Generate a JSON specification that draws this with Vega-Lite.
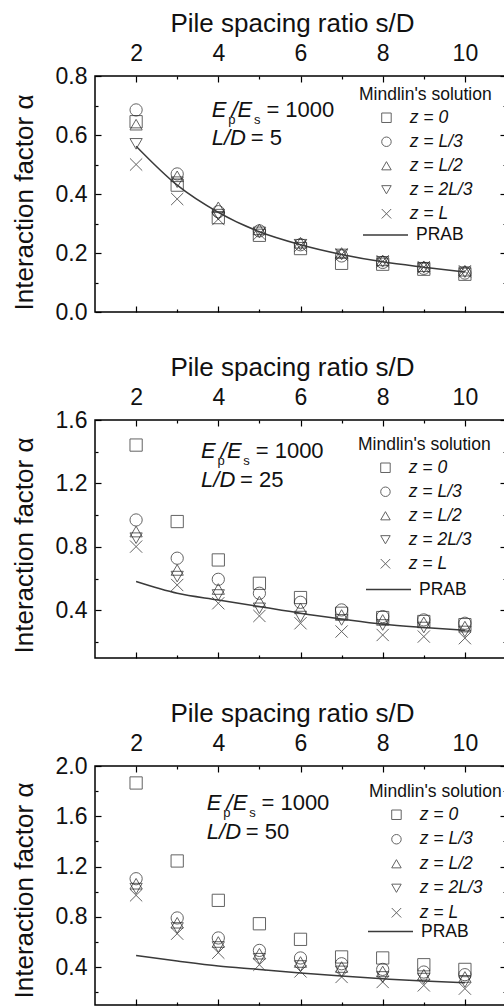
{
  "$schema": "https://vega.github.io/schema/vega-lite/v6.json",
  "padding": {"left": 10, "top": 9, "right": 0, "bottom": 0},
  "background": "white",
  "spacing": 108,
  "bounds": "flush",
  "config": {
    "font": "Liberation Sans",
    "view": {"stroke": "#000", "strokeWidth": 1.5},
    "axis": {"domain": false, "grid": false, "tickColor": "#000", "tickWidth": 1.2, "labelFontSize": 23, "titleFontSize": 26, "labelColor": "#111", "titleColor": "#111", "titleFontWeight": "normal", "labelFlush": false, "labelOverlap": false},
    "legend": {"padding": 0, "labelFont": "Liberation Sans", "titleFont": "Liberation Sans"}
  },
  "datasets": {
    "mindlin": [
      {"panel": 1, "s": 2, "case": "z = 0", "alpha": 0.645}, {"panel": 1, "s": 2, "case": "z = L/3", "alpha": 0.685}, {"panel": 1, "s": 2, "case": "z = L/2", "alpha": 0.635}, {"panel": 1, "s": 2, "case": "z = 2L/3", "alpha": 0.57}, {"panel": 1, "s": 2, "case": "z = L", "alpha": 0.5},
      {"panel": 1, "s": 3, "case": "z = 0", "alpha": 0.43}, {"panel": 1, "s": 3, "case": "z = L/3", "alpha": 0.468}, {"panel": 1, "s": 3, "case": "z = L/2", "alpha": 0.46}, {"panel": 1, "s": 3, "case": "z = 2L/3", "alpha": 0.44}, {"panel": 1, "s": 3, "case": "z = L", "alpha": 0.383},
      {"panel": 1, "s": 4, "case": "z = 0", "alpha": 0.32}, {"panel": 1, "s": 4, "case": "z = L/3", "alpha": 0.34}, {"panel": 1, "s": 4, "case": "z = L/2", "alpha": 0.355}, {"panel": 1, "s": 4, "case": "z = 2L/3", "alpha": 0.33}, {"panel": 1, "s": 4, "case": "z = L", "alpha": 0.315},
      {"panel": 1, "s": 5, "case": "z = 0", "alpha": 0.26}, {"panel": 1, "s": 5, "case": "z = L/3", "alpha": 0.275}, {"panel": 1, "s": 5, "case": "z = L/2", "alpha": 0.28}, {"panel": 1, "s": 5, "case": "z = 2L/3", "alpha": 0.27}, {"panel": 1, "s": 5, "case": "z = L", "alpha": 0.265},
      {"panel": 1, "s": 6, "case": "z = 0", "alpha": 0.215}, {"panel": 1, "s": 6, "case": "z = L/3", "alpha": 0.228}, {"panel": 1, "s": 6, "case": "z = L/2", "alpha": 0.235}, {"panel": 1, "s": 6, "case": "z = 2L/3", "alpha": 0.228}, {"panel": 1, "s": 6, "case": "z = L", "alpha": 0.225},
      {"panel": 1, "s": 7, "case": "z = 0", "alpha": 0.165}, {"panel": 1, "s": 7, "case": "z = L/3", "alpha": 0.19}, {"panel": 1, "s": 7, "case": "z = L/2", "alpha": 0.2}, {"panel": 1, "s": 7, "case": "z = 2L/3", "alpha": 0.195}, {"panel": 1, "s": 7, "case": "z = L", "alpha": 0.195},
      {"panel": 1, "s": 8, "case": "z = 0", "alpha": 0.162}, {"panel": 1, "s": 8, "case": "z = L/3", "alpha": 0.168}, {"panel": 1, "s": 8, "case": "z = L/2", "alpha": 0.175}, {"panel": 1, "s": 8, "case": "z = 2L/3", "alpha": 0.17}, {"panel": 1, "s": 8, "case": "z = L", "alpha": 0.172},
      {"panel": 1, "s": 9, "case": "z = 0", "alpha": 0.145}, {"panel": 1, "s": 9, "case": "z = L/3", "alpha": 0.148}, {"panel": 1, "s": 9, "case": "z = L/2", "alpha": 0.155}, {"panel": 1, "s": 9, "case": "z = 2L/3", "alpha": 0.15}, {"panel": 1, "s": 9, "case": "z = L", "alpha": 0.152},
      {"panel": 1, "s": 10, "case": "z = 0", "alpha": 0.128}, {"panel": 1, "s": 10, "case": "z = L/3", "alpha": 0.132}, {"panel": 1, "s": 10, "case": "z = L/2", "alpha": 0.14}, {"panel": 1, "s": 10, "case": "z = 2L/3", "alpha": 0.135}, {"panel": 1, "s": 10, "case": "z = L", "alpha": 0.138},
      {"panel": 2, "s": 2, "case": "z = 0", "alpha": 1.442}, {"panel": 2, "s": 2, "case": "z = L/3", "alpha": 0.97}, {"panel": 2, "s": 2, "case": "z = L/2", "alpha": 0.897}, {"panel": 2, "s": 2, "case": "z = 2L/3", "alpha": 0.855}, {"panel": 2, "s": 2, "case": "z = L", "alpha": 0.802},
      {"panel": 2, "s": 3, "case": "z = 0", "alpha": 0.96}, {"panel": 2, "s": 3, "case": "z = L/3", "alpha": 0.729}, {"panel": 2, "s": 3, "case": "z = L/2", "alpha": 0.655}, {"panel": 2, "s": 3, "case": "z = 2L/3", "alpha": 0.613}, {"panel": 2, "s": 3, "case": "z = L", "alpha": 0.56},
      {"panel": 2, "s": 4, "case": "z = 0", "alpha": 0.718}, {"panel": 2, "s": 4, "case": "z = L/3", "alpha": 0.596}, {"panel": 2, "s": 4, "case": "z = L/2", "alpha": 0.535}, {"panel": 2, "s": 4, "case": "z = 2L/3", "alpha": 0.497}, {"panel": 2, "s": 4, "case": "z = L", "alpha": 0.445},
      {"panel": 2, "s": 5, "case": "z = 0", "alpha": 0.571}, {"panel": 2, "s": 5, "case": "z = L/3", "alpha": 0.508}, {"panel": 2, "s": 5, "case": "z = L/2", "alpha": 0.456}, {"panel": 2, "s": 5, "case": "z = 2L/3", "alpha": 0.413}, {"panel": 2, "s": 5, "case": "z = L", "alpha": 0.365},
      {"panel": 2, "s": 6, "case": "z = 0", "alpha": 0.481}, {"panel": 2, "s": 6, "case": "z = L/3", "alpha": 0.451}, {"panel": 2, "s": 6, "case": "z = L/2", "alpha": 0.413}, {"panel": 2, "s": 6, "case": "z = 2L/3", "alpha": 0.361}, {"panel": 2, "s": 6, "case": "z = L", "alpha": 0.319},
      {"panel": 2, "s": 7, "case": "z = 0", "alpha": 0.382}, {"panel": 2, "s": 7, "case": "z = L/3", "alpha": 0.403}, {"panel": 2, "s": 7, "case": "z = L/2", "alpha": 0.371}, {"panel": 2, "s": 7, "case": "z = 2L/3", "alpha": 0.34}, {"panel": 2, "s": 7, "case": "z = L", "alpha": 0.267},
      {"panel": 2, "s": 8, "case": "z = 0", "alpha": 0.355}, {"panel": 2, "s": 8, "case": "z = L/3", "alpha": 0.361}, {"panel": 2, "s": 8, "case": "z = L/2", "alpha": 0.34}, {"panel": 2, "s": 8, "case": "z = 2L/3", "alpha": 0.308}, {"panel": 2, "s": 8, "case": "z = L", "alpha": 0.245},
      {"panel": 2, "s": 9, "case": "z = 0", "alpha": 0.33}, {"panel": 2, "s": 9, "case": "z = L/3", "alpha": 0.34}, {"panel": 2, "s": 9, "case": "z = L/2", "alpha": 0.325}, {"panel": 2, "s": 9, "case": "z = 2L/3", "alpha": 0.292}, {"panel": 2, "s": 9, "case": "z = L", "alpha": 0.235},
      {"panel": 2, "s": 10, "case": "z = 0", "alpha": 0.31}, {"panel": 2, "s": 10, "case": "z = L/3", "alpha": 0.319}, {"panel": 2, "s": 10, "case": "z = L/2", "alpha": 0.298}, {"panel": 2, "s": 10, "case": "z = 2L/3", "alpha": 0.267}, {"panel": 2, "s": 10, "case": "z = L", "alpha": 0.225},
      {"panel": 3, "s": 2, "case": "z = 0", "alpha": 1.865}, {"panel": 3, "s": 2, "case": "z = L/3", "alpha": 1.104}, {"panel": 3, "s": 2, "case": "z = L/2", "alpha": 1.064}, {"panel": 3, "s": 2, "case": "z = 2L/3", "alpha": 1.025}, {"panel": 3, "s": 2, "case": "z = L", "alpha": 0.972},
      {"panel": 3, "s": 3, "case": "z = 0", "alpha": 1.245}, {"panel": 3, "s": 3, "case": "z = L/3", "alpha": 0.792}, {"panel": 3, "s": 3, "case": "z = L/2", "alpha": 0.754}, {"panel": 3, "s": 3, "case": "z = 2L/3", "alpha": 0.712}, {"panel": 3, "s": 3, "case": "z = L", "alpha": 0.667},
      {"panel": 3, "s": 4, "case": "z = 0", "alpha": 0.932}, {"panel": 3, "s": 4, "case": "z = L/3", "alpha": 0.633}, {"panel": 3, "s": 4, "case": "z = L/2", "alpha": 0.601}, {"panel": 3, "s": 4, "case": "z = 2L/3", "alpha": 0.561}, {"panel": 3, "s": 4, "case": "z = L", "alpha": 0.516},
      {"panel": 3, "s": 5, "case": "z = 0", "alpha": 0.746}, {"panel": 3, "s": 5, "case": "z = L/3", "alpha": 0.534}, {"panel": 3, "s": 5, "case": "z = L/2", "alpha": 0.508}, {"panel": 3, "s": 5, "case": "z = 2L/3", "alpha": 0.468}, {"panel": 3, "s": 5, "case": "z = L", "alpha": 0.42},
      {"panel": 3, "s": 6, "case": "z = 0", "alpha": 0.622}, {"panel": 3, "s": 6, "case": "z = L/3", "alpha": 0.474}, {"panel": 3, "s": 6, "case": "z = L/2", "alpha": 0.442}, {"panel": 3, "s": 6, "case": "z = 2L/3", "alpha": 0.41}, {"panel": 3, "s": 6, "case": "z = L", "alpha": 0.367},
      {"panel": 3, "s": 7, "case": "z = 0", "alpha": 0.482}, {"panel": 3, "s": 7, "case": "z = L/3", "alpha": 0.428}, {"panel": 3, "s": 7, "case": "z = L/2", "alpha": 0.402}, {"panel": 3, "s": 7, "case": "z = 2L/3", "alpha": 0.367}, {"panel": 3, "s": 7, "case": "z = L", "alpha": 0.323},
      {"panel": 3, "s": 8, "case": "z = 0", "alpha": 0.474}, {"panel": 3, "s": 8, "case": "z = L/3", "alpha": 0.383}, {"panel": 3, "s": 8, "case": "z = L/2", "alpha": 0.367}, {"panel": 3, "s": 8, "case": "z = 2L/3", "alpha": 0.323}, {"panel": 3, "s": 8, "case": "z = L", "alpha": 0.283},
      {"panel": 3, "s": 9, "case": "z = 0", "alpha": 0.42}, {"panel": 3, "s": 9, "case": "z = L/3", "alpha": 0.362}, {"panel": 3, "s": 9, "case": "z = L/2", "alpha": 0.341}, {"panel": 3, "s": 9, "case": "z = 2L/3", "alpha": 0.31}, {"panel": 3, "s": 9, "case": "z = L", "alpha": 0.256},
      {"panel": 3, "s": 10, "case": "z = 0", "alpha": 0.383}, {"panel": 3, "s": 10, "case": "z = L/3", "alpha": 0.341}, {"panel": 3, "s": 10, "case": "z = L/2", "alpha": 0.323}, {"panel": 3, "s": 10, "case": "z = 2L/3", "alpha": 0.283}, {"panel": 3, "s": 10, "case": "z = L", "alpha": 0.23}
    ],
    "prab": [
      {"panel": 1, "s": 2, "alpha": 0.562}, {"panel": 1, "s": 3, "alpha": 0.43}, {"panel": 1, "s": 4, "alpha": 0.338}, {"panel": 1, "s": 5, "alpha": 0.272}, {"panel": 1, "s": 6, "alpha": 0.228}, {"panel": 1, "s": 7, "alpha": 0.195}, {"panel": 1, "s": 8, "alpha": 0.17}, {"panel": 1, "s": 9, "alpha": 0.152}, {"panel": 1, "s": 10, "alpha": 0.136},
      {"panel": 2, "s": 2, "alpha": 0.582}, {"panel": 2, "s": 3, "alpha": 0.508}, {"panel": 2, "s": 4, "alpha": 0.466}, {"panel": 2, "s": 5, "alpha": 0.424}, {"panel": 2, "s": 6, "alpha": 0.382}, {"panel": 2, "s": 7, "alpha": 0.346}, {"panel": 2, "s": 8, "alpha": 0.313}, {"panel": 2, "s": 9, "alpha": 0.292}, {"panel": 2, "s": 10, "alpha": 0.275},
      {"panel": 3, "s": 2, "alpha": 0.494}, {"panel": 3, "s": 3, "alpha": 0.45}, {"panel": 3, "s": 4, "alpha": 0.41}, {"panel": 3, "s": 5, "alpha": 0.383}, {"panel": 3, "s": 6, "alpha": 0.354}, {"panel": 3, "s": 7, "alpha": 0.33}, {"panel": 3, "s": 8, "alpha": 0.309}, {"panel": 3, "s": 9, "alpha": 0.29}, {"panel": 3, "s": 10, "alpha": 0.277}
    ],
    "annItalic": [
      {"panel": 1, "x": 3.84, "y": 0.662, "text": "E"}, {"panel": 1, "x": 4.32, "y": 0.662, "text": "/E"}, {"panel": 1, "x": 3.84, "y": 0.565, "text": "L/D"},
      {"panel": 2, "x": 3.58, "y": 1.363, "text": "E"}, {"panel": 2, "x": 4.06, "y": 1.363, "text": "/E"}, {"panel": 2, "x": 3.58, "y": 1.18, "text": "L/D"},
      {"panel": 3, "x": 3.72, "y": 1.647, "text": "E"}, {"panel": 3, "x": 4.2, "y": 1.647, "text": "/E"}, {"panel": 3, "x": 3.72, "y": 1.422, "text": "L/D"}
    ],
    "annRegular": [
      {"panel": 1, "x": 5.17, "y": 0.662, "text": "= 1000"}, {"panel": 1, "x": 4.79, "y": 0.565, "text": "= 5"},
      {"panel": 2, "x": 4.91, "y": 1.363, "text": "= 1000"}, {"panel": 2, "x": 4.53, "y": 1.18, "text": "= 25"},
      {"panel": 3, "x": 5.05, "y": 1.647, "text": "= 1000"}, {"panel": 3, "x": 4.67, "y": 1.422, "text": "= 50"}
    ],
    "annSub": [
      {"panel": 1, "x": 4.24, "y": 0.638, "text": "p"}, {"panel": 1, "x": 4.87, "y": 0.638, "text": "s"},
      {"panel": 2, "x": 3.98, "y": 1.319, "text": "p"}, {"panel": 2, "x": 4.61, "y": 1.319, "text": "s"},
      {"panel": 3, "x": 4.12, "y": 1.591, "text": "p"}, {"panel": 3, "x": 4.75, "y": 1.591, "text": "s"}
    ]
  },
  "resolve": {"scale": {"shape": "independent", "color": "independent", "y": "independent"}, "legend": {"shape": "independent", "color": "independent"}},
  "vconcat": [
    {
      "width": 411, "height": 236,
      "resolve": {"axis": {"x": "independent", "y": "independent"}},
      "layer": [
        {
          "data": {"name": "mindlin"},
          "transform": [{"filter": "datum.panel == 1"}],
          "mark": {"type": "point", "filled": false, "color": "#222", "strokeWidth": 1, "size": 150},
          "encoding": {
            "x": {"field": "s", "type": "quantitative", "scale": {"domain": [1, 11], "nice": false, "zero": false},
              "axis": {"orient": "top", "title": "Pile spacing ratio s/D", "titleX": 197, "values": [2, 3, 4, 5, 6, 7, 8, 9, 10], "labelExpr": "datum.value % 2 == 0 ? datum.label : ''", "tickSize": {"condition": {"test": "datum.value % 2 == 0", "value": -6}, "value": -3}, "labelPadding": 17, "titlePadding": 2.5}},
            "y": {"field": "alpha", "type": "quantitative", "scale": {"domain": [0, 0.8], "nice": false, "zero": false},
              "axis": {"orient": "left", "title": "Interaction factor α", "titleY": 126, "values": [0, 0.1, 0.2, 0.3, 0.4, 0.5, 0.6, 0.7, 0.8], "format": ".1f", "labelExpr": "round(datum.value * 10) % 2 == 0 ? datum.label : ''", "tickSize": {"condition": {"test": "round(datum.value * 10) % 2 == 0", "value": -6}, "value": -3}, "labelPadding": 14, "titlePadding": 18}},
            "shape": {"field": "case", "type": "nominal",
              "scale": {"domain": ["z = 0", "z = L/3", "z = L/2", "z = 2L/3", "z = L"], "range": ["square", "circle", "triangle-up", "triangle-down", "M-1,-1L1,1M-1,1L1,-1"]},
              "legend": {"orient": "none", "legendX": 264, "legendY": 10, "title": "Mindlin's solution", "titleFontSize": 17.5, "titleFontWeight": "normal", "titleColor": "#111", "titlePadding": 5.5, "labelFontSize": 17.5, "labelFontStyle": "italic", "labelColor": "#111", "symbolSize": 90, "symbolStrokeColor": "#222", "symbolStrokeWidth": 1, "symbolFillColor": "transparent", "symbolOffset": 18.7, "labelOffset": 14.5, "rowPadding": 5}}
          }
        },
        {
          "data": {"name": "prab"},
          "transform": [{"filter": "datum.panel == 1"}],
          "mark": {"type": "line", "strokeWidth": 1.5, "interpolate": "monotone"},
          "encoding": {
            "x": {"field": "s", "type": "quantitative", "axis": {"orient": "bottom", "title": null, "labels": false, "values": [2, 3, 4, 5, 6, 7, 8, 9, 10], "tickSize": {"condition": {"test": "datum.value % 2 == 0", "value": -6}, "value": -3}}},
            "y": {"field": "alpha", "type": "quantitative", "axis": {"orient": "right", "title": null, "labels": false, "values": [0, 0.1, 0.2, 0.3, 0.4, 0.5, 0.6, 0.7, 0.8], "tickSize": {"condition": {"test": "round(datum.value * 10) % 2 == 0", "value": -6}, "value": -3}}},
            "color": {"datum": "PRAB", "type": "nominal", "scale": {"range": ["#3a3a3a"]},
              "legend": {"orient": "none", "legendX": 267, "legendY": 135.5, "title": null, "symbolType": "stroke", "symbolSize": 2025, "symbolStrokeWidth": 1.5, "labelFontSize": 17.5, "labelColor": "#111", "labelOffset": 7}}
          }
        },
        {
          "data": {"name": "annItalic"},
          "transform": [{"filter": "datum.panel == 1"}],
          "mark": {"type": "text", "fontStyle": "italic", "fontSize": 22, "align": "left", "baseline": "alphabetic", "color": "#111"},
          "encoding": {"x": {"field": "x", "type": "quantitative", "axis": null}, "y": {"field": "y", "type": "quantitative", "axis": null}, "text": {"field": "text"}}
        },
        {
          "data": {"name": "annRegular"},
          "transform": [{"filter": "datum.panel == 1"}],
          "mark": {"type": "text", "fontSize": 22, "align": "left", "baseline": "alphabetic", "color": "#111"},
          "encoding": {"x": {"field": "x", "type": "quantitative", "axis": null}, "y": {"field": "y", "type": "quantitative", "axis": null}, "text": {"field": "text"}}
        },
        {
          "data": {"name": "annSub"},
          "transform": [{"filter": "datum.panel == 1"}],
          "mark": {"type": "text", "fontSize": 13, "align": "left", "baseline": "alphabetic", "color": "#111"},
          "encoding": {"x": {"field": "x", "type": "quantitative", "axis": null}, "y": {"field": "y", "type": "quantitative", "axis": null}, "text": {"field": "text"}}
        }
      ]
    },
    {
      "width": 411, "height": 238,
      "resolve": {"axis": {"x": "independent", "y": "independent"}},
      "layer": [
        {
          "data": {"name": "mindlin"},
          "transform": [{"filter": "datum.panel == 2"}],
          "mark": {"type": "point", "filled": false, "color": "#222", "strokeWidth": 1, "size": 150},
          "encoding": {
            "x": {"field": "s", "type": "quantitative", "scale": {"domain": [1, 11], "nice": false, "zero": false},
              "axis": {"orient": "top", "title": "Pile spacing ratio s/D", "titleX": 197, "values": [2, 3, 4, 5, 6, 7, 8, 9, 10], "labelExpr": "datum.value % 2 == 0 ? datum.label : ''", "tickSize": {"condition": {"test": "datum.value % 2 == 0", "value": -6}, "value": -3}, "labelPadding": 17, "titlePadding": 2.5}},
            "y": {"field": "alpha", "type": "quantitative", "scale": {"domain": [0.1, 1.6], "nice": false, "zero": false},
              "axis": {"orient": "left", "title": "Interaction factor α", "titleY": 125, "values": [0.2, 0.4, 0.6, 0.8, 1.0, 1.2, 1.4, 1.6], "format": ".1f", "labelExpr": "round(datum.value * 10) % 4 == 0 ? datum.label : ''", "tickSize": {"condition": {"test": "round(datum.value * 10) % 4 == 0", "value": -6}, "value": -3}, "labelPadding": 14, "titlePadding": 18}},
            "shape": {"field": "case", "type": "nominal",
              "scale": {"domain": ["z = 0", "z = L/3", "z = L/2", "z = 2L/3", "z = L"], "range": ["square", "circle", "triangle-up", "triangle-down", "M-1,-1L1,1M-1,1L1,-1"]},
              "legend": {"orient": "none", "legendX": 263, "legendY": 16, "title": "Mindlin's solution", "titleFontSize": 17.5, "titleFontWeight": "normal", "titleColor": "#111", "titlePadding": 5.5, "labelFontSize": 17.5, "labelFontStyle": "italic", "labelColor": "#111", "symbolSize": 90, "symbolStrokeColor": "#222", "symbolStrokeWidth": 1, "symbolFillColor": "transparent", "symbolOffset": 18.7, "labelOffset": 14.5, "rowPadding": 5}}
          }
        },
        {
          "data": {"name": "prab"},
          "transform": [{"filter": "datum.panel == 2"}],
          "mark": {"type": "line", "strokeWidth": 1.5, "interpolate": "monotone"},
          "encoding": {
            "x": {"field": "s", "type": "quantitative", "axis": {"orient": "bottom", "title": null, "labels": false, "values": [2, 3, 4, 5, 6, 7, 8, 9, 10], "tickSize": {"condition": {"test": "datum.value % 2 == 0", "value": -6}, "value": -3}}},
            "y": {"field": "alpha", "type": "quantitative", "axis": {"orient": "right", "title": null, "labels": false, "values": [0.2, 0.4, 0.6, 0.8, 1.0, 1.2, 1.4, 1.6], "tickSize": {"condition": {"test": "round(datum.value * 10) % 4 == 0", "value": -6}, "value": -3}}},
            "color": {"datum": "PRAB", "type": "nominal", "scale": {"range": ["#3a3a3a"]},
              "legend": {"orient": "none", "legendX": 270, "legendY": 146, "title": null, "symbolType": "stroke", "symbolSize": 2025, "symbolStrokeWidth": 1.5, "labelFontSize": 17.5, "labelColor": "#111", "labelOffset": 7}}
          }
        },
        {
          "data": {"name": "annItalic"},
          "transform": [{"filter": "datum.panel == 2"}],
          "mark": {"type": "text", "fontStyle": "italic", "fontSize": 22, "align": "left", "baseline": "alphabetic", "color": "#111"},
          "encoding": {"x": {"field": "x", "type": "quantitative", "axis": null}, "y": {"field": "y", "type": "quantitative", "axis": null}, "text": {"field": "text"}}
        },
        {
          "data": {"name": "annRegular"},
          "transform": [{"filter": "datum.panel == 2"}],
          "mark": {"type": "text", "fontSize": 22, "align": "left", "baseline": "alphabetic", "color": "#111"},
          "encoding": {"x": {"field": "x", "type": "quantitative", "axis": null}, "y": {"field": "y", "type": "quantitative", "axis": null}, "text": {"field": "text"}}
        },
        {
          "data": {"name": "annSub"},
          "transform": [{"filter": "datum.panel == 2"}],
          "mark": {"type": "text", "fontSize": 13, "align": "left", "baseline": "alphabetic", "color": "#111"},
          "encoding": {"x": {"field": "x", "type": "quantitative", "axis": null}, "y": {"field": "y", "type": "quantitative", "axis": null}, "text": {"field": "text"}}
        }
      ]
    },
    {
      "width": 411, "height": 239,
      "resolve": {"axis": {"x": "independent", "y": "independent"}},
      "layer": [
        {
          "data": {"name": "mindlin"},
          "transform": [{"filter": "datum.panel == 3"}],
          "mark": {"type": "point", "filled": false, "color": "#222", "strokeWidth": 1, "size": 150},
          "encoding": {
            "x": {"field": "s", "type": "quantitative", "scale": {"domain": [1, 11], "nice": false, "zero": false},
              "axis": {"orient": "top", "title": "Pile spacing ratio s/D", "titleX": 197, "values": [2, 3, 4, 5, 6, 7, 8, 9, 10], "labelExpr": "datum.value % 2 == 0 ? datum.label : ''", "tickSize": {"condition": {"test": "datum.value % 2 == 0", "value": -6}, "value": -3}, "labelPadding": 17, "titlePadding": 2.5}},
            "y": {"field": "alpha", "type": "quantitative", "scale": {"domain": [0.1, 2.0], "nice": false, "zero": false},
              "axis": {"orient": "left", "title": "Interaction factor α", "titleY": 124, "values": [0.2, 0.4, 0.6, 0.8, 1.0, 1.2, 1.4, 1.6, 1.8, 2.0], "format": ".1f", "labelExpr": "round(datum.value * 10) % 4 == 0 ? datum.label : ''", "tickSize": {"condition": {"test": "round(datum.value * 10) % 4 == 0", "value": -6}, "value": -3}, "labelPadding": 14, "titlePadding": 18}},
            "shape": {"field": "case", "type": "nominal",
              "scale": {"domain": ["z = 0", "z = L/3", "z = L/2", "z = 2L/3", "z = L"], "range": ["square", "circle", "triangle-up", "triangle-down", "M-1,-1L1,1M-1,1L1,-1"]},
              "legend": {"orient": "none", "legendX": 274, "legendY": 17, "title": "Mindlin's solution", "titleFontSize": 17.5, "titleFontWeight": "normal", "titleColor": "#111", "titlePadding": 5.5, "labelFontSize": 17.5, "labelFontStyle": "italic", "labelColor": "#111", "symbolSize": 90, "symbolStrokeColor": "#222", "symbolStrokeWidth": 1, "symbolFillColor": "transparent", "symbolOffset": 18.7, "labelOffset": 14.5, "rowPadding": 5.5}}
          }
        },
        {
          "data": {"name": "prab"},
          "transform": [{"filter": "datum.panel == 3"}],
          "mark": {"type": "line", "strokeWidth": 1.5, "interpolate": "monotone"},
          "encoding": {
            "x": {"field": "s", "type": "quantitative", "axis": {"orient": "bottom", "title": null, "labels": false, "values": [2, 3, 4, 5, 6, 7, 8, 9, 10], "tickSize": {"condition": {"test": "datum.value % 2 == 0", "value": -6}, "value": -3}}},
            "y": {"field": "alpha", "type": "quantitative", "axis": {"orient": "right", "title": null, "labels": false, "values": [0.2, 0.4, 0.6, 0.8, 1.0, 1.2, 1.4, 1.6, 1.8, 2.0], "tickSize": {"condition": {"test": "round(datum.value * 10) % 4 == 0", "value": -6}, "value": -3}}},
            "color": {"datum": "PRAB", "type": "nominal", "scale": {"range": ["#3a3a3a"]},
              "legend": {"orient": "none", "legendX": 272, "legendY": 142, "title": null, "symbolType": "stroke", "symbolSize": 2025, "symbolStrokeWidth": 1.5, "labelFontSize": 17.5, "labelColor": "#111", "labelOffset": 7}}
          }
        },
        {
          "data": {"name": "annItalic"},
          "transform": [{"filter": "datum.panel == 3"}],
          "mark": {"type": "text", "fontStyle": "italic", "fontSize": 22, "align": "left", "baseline": "alphabetic", "color": "#111"},
          "encoding": {"x": {"field": "x", "type": "quantitative", "axis": null}, "y": {"field": "y", "type": "quantitative", "axis": null}, "text": {"field": "text"}}
        },
        {
          "data": {"name": "annRegular"},
          "transform": [{"filter": "datum.panel == 3"}],
          "mark": {"type": "text", "fontSize": 22, "align": "left", "baseline": "alphabetic", "color": "#111"},
          "encoding": {"x": {"field": "x", "type": "quantitative", "axis": null}, "y": {"field": "y", "type": "quantitative", "axis": null}, "text": {"field": "text"}}
        },
        {
          "data": {"name": "annSub"},
          "transform": [{"filter": "datum.panel == 3"}],
          "mark": {"type": "text", "fontSize": 13, "align": "left", "baseline": "alphabetic", "color": "#111"},
          "encoding": {"x": {"field": "x", "type": "quantitative", "axis": null}, "y": {"field": "y", "type": "quantitative", "axis": null}, "text": {"field": "text"}}
        }
      ]
    }
  ]
}
